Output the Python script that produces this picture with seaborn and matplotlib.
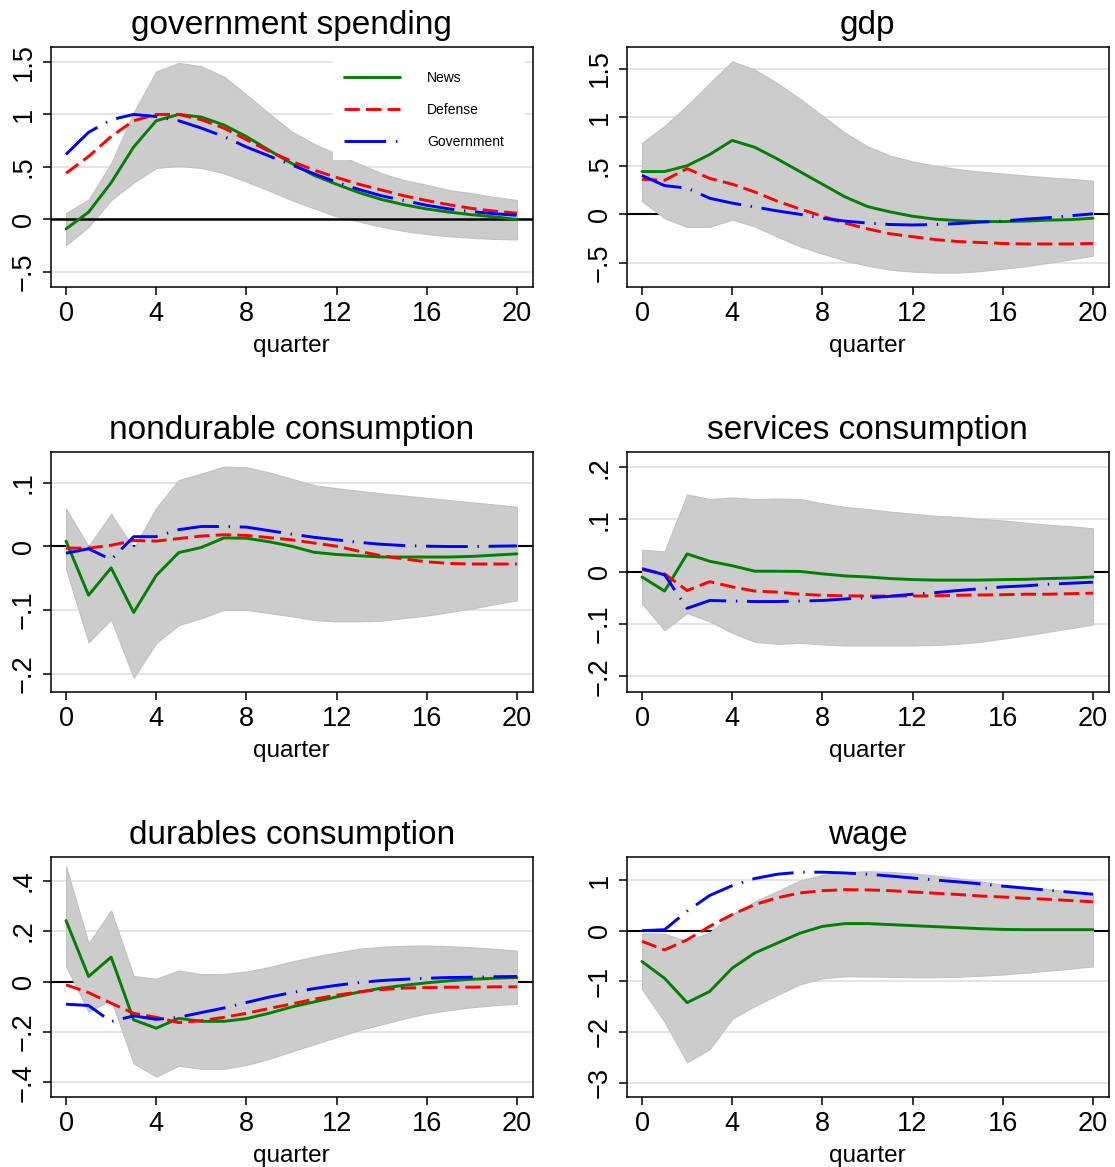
import seaborn as sns
import numpy as np
import pandas as pd
import matplotlib
matplotlib.use("Agg")
import matplotlib.pyplot as plt
from matplotlib.patches import Rectangle

quarters = list(range(21))
titles = ["government spending", "gdp",
          "nondurable consumption", "services consumption",
          "durables consumption", "wage"]
series_names = ["News", "Defense", "Government"]

# government spending
gs_news = [-0.09, 0.07, 0.35, 0.69, 0.94, 1.0, 0.975, 0.90, 0.79, 0.66, 0.535,
           0.42, 0.335, 0.255, 0.19, 0.14, 0.10, 0.07, 0.045, 0.025, 0.0]
gs_def = [0.44, 0.60, 0.79, 0.94, 1.0, 1.0, 0.95, 0.87, 0.76, 0.65, 0.555,
          0.47, 0.40, 0.335, 0.28, 0.225, 0.18, 0.14, 0.105, 0.08, 0.06]
gs_gov = [0.62, 0.83, 0.95, 1.0, 0.98, 0.94, 0.87, 0.79, 0.69, 0.605, 0.52,
          0.435, 0.355, 0.285, 0.225, 0.18, 0.135, 0.10, 0.075, 0.055, 0.04]
gs_hi = [0.06, 0.19, 0.535, 1.02, 1.41, 1.49, 1.46, 1.36, 1.19, 1.01, 0.84,
         0.72, 0.625, 0.53, 0.44, 0.375, 0.33, 0.28, 0.25, 0.215, 0.185]
gs_lo = [-0.245, -0.07, 0.185, 0.35, 0.49, 0.51, 0.49, 0.44, 0.36, 0.275, 0.185,
         0.105, 0.03, -0.02, -0.07, -0.11, -0.14, -0.16, -0.175, -0.185, -0.19]

# gdp
gdp_news = [0.44, 0.44, 0.50, 0.615, 0.76, 0.69, 0.57, 0.44, 0.31, 0.18, 0.08,
            0.025, -0.02, -0.05, -0.065, -0.075, -0.075, -0.07, -0.06, -0.055, -0.04]
gdp_def = [0.36, 0.35, 0.47, 0.37, 0.31, 0.23, 0.135, 0.055, -0.02, -0.09, -0.15,
           -0.20, -0.23, -0.26, -0.28, -0.29, -0.30, -0.305, -0.305, -0.305, -0.30]
gdp_gov = [0.40, 0.295, 0.27, 0.165, 0.115, 0.075, 0.035, 0.0, -0.04, -0.07, -0.09,
           -0.105, -0.11, -0.105, -0.095, -0.08, -0.07, -0.05, -0.035, -0.015, 0.005]
gdp_hi = [0.735, 0.91, 1.12, 1.35, 1.575, 1.49, 1.35, 1.19, 1.015, 0.84, 0.70,
          0.605, 0.545, 0.50, 0.465, 0.44, 0.42, 0.40, 0.38, 0.365, 0.345]
gdp_lo = [0.135, -0.04, -0.13, -0.13, -0.055, -0.125, -0.23, -0.33, -0.405, -0.475, -0.53,
          -0.57, -0.59, -0.60, -0.60, -0.585, -0.56, -0.535, -0.50, -0.465, -0.425]

# nondurable consumption
nd_news = [0.008, -0.077, -0.034, -0.104, -0.046, -0.010, -0.002, 0.013, 0.0125, 0.007, 0.0,
           -0.0095, -0.013, -0.015, -0.017, -0.017, -0.017, -0.017, -0.016, -0.014, -0.012]
nd_def = [-0.003, -0.003, 0.0015, 0.009, 0.008, 0.012, 0.016, 0.018, 0.017, 0.0135, 0.010,
          0.005, 0.0, -0.008, -0.015, -0.020, -0.0245, -0.027, -0.028, -0.028, -0.028]
nd_gov = [-0.011, -0.004, -0.021, 0.015, 0.015, 0.026, 0.031, 0.031, 0.030, 0.0245, 0.019,
          0.014, 0.010, 0.006, 0.003, 0.001, 0.0, -0.0005, -0.0005, 0.0, 0.0005]
nd_hi = [0.059, 0.0, 0.051, -0.003, 0.060, 0.104, 0.114, 0.125, 0.124, 0.116, 0.106,
         0.096, 0.091, 0.087, 0.083, 0.0795, 0.076, 0.0725, 0.069, 0.0655, 0.062]
nd_lo = [-0.036, -0.151, -0.115, -0.207, -0.152, -0.124, -0.113, -0.100, -0.100, -0.105, -0.110,
         -0.116, -0.118, -0.118, -0.117, -0.113, -0.109, -0.1035, -0.098, -0.091, -0.085]

# services consumption
sv_news = [-0.010, -0.037, 0.034, 0.020, 0.0115, 0.001, 0.001, 0.0006, -0.004, -0.008, -0.010,
           -0.013, -0.015, -0.016, -0.016, -0.016, -0.015, -0.0145, -0.013, -0.012, -0.010]
sv_def = [0.004, -0.004, -0.036, -0.019, -0.029, -0.037, -0.039, -0.043, -0.045, -0.046, -0.0465,
          -0.0465, -0.0465, -0.046, -0.045, -0.0445, -0.044, -0.043, -0.043, -0.042, -0.041]
sv_gov = [0.006, -0.006, -0.070, -0.055, -0.056, -0.057, -0.057, -0.056, -0.055, -0.052, -0.050,
          -0.047, -0.043, -0.040, -0.036, -0.0325, -0.029, -0.027, -0.024, -0.022, -0.020]
sv_hi = [0.042, 0.039, 0.148, 0.139, 0.142, 0.139, 0.140, 0.139, 0.131, 0.124, 0.120,
         0.115, 0.111, 0.107, 0.105, 0.101, 0.098, 0.094, 0.090, 0.087, 0.083]
sv_lo = [-0.061, -0.112, -0.079, -0.095, -0.117, -0.134, -0.138, -0.136, -0.139, -0.141, -0.141,
         -0.141, -0.141, -0.140, -0.138, -0.134, -0.128, -0.122, -0.115, -0.108, -0.101]

# durables consumption
du_news = [0.242, 0.02, 0.097, -0.152, -0.185, -0.146, -0.158, -0.158, -0.147, -0.126, -0.101,
           -0.081, -0.061, -0.042, -0.026, -0.015, -0.005, 0.003, 0.009, 0.013, 0.016]
du_def = [-0.013, -0.044, -0.086, -0.126, -0.142, -0.163, -0.155, -0.142, -0.126, -0.107, -0.089,
          -0.070, -0.054, -0.041, -0.032, -0.026, -0.024, -0.0225, -0.0225, -0.021, -0.021]
du_gov = [-0.09, -0.095, -0.159, -0.136, -0.150, -0.142, -0.123, -0.105, -0.083, -0.062, -0.044,
          -0.028, -0.015, -0.004, 0.004, 0.009, 0.013, 0.016, 0.017, 0.019, 0.020]
du_hi = [0.457, 0.152, 0.282, 0.022, 0.011, 0.044, 0.029, 0.030, 0.040, 0.057, 0.079,
         0.099, 0.115, 0.130, 0.138, 0.142, 0.143, 0.140, 0.136, 0.130, 0.123]
du_lo = [0.06, -0.119, -0.073, -0.325, -0.377, -0.334, -0.346, -0.346, -0.331, -0.307, -0.278,
         -0.249, -0.221, -0.193, -0.170, -0.147, -0.127, -0.113, -0.102, -0.094, -0.088]

# wage
wg_news = [-0.61, -0.94, -1.42, -1.20, -0.74, -0.44, -0.245, -0.05, 0.085, 0.14, 0.14,
           0.12, 0.10, 0.08, 0.06, 0.04, 0.025, 0.02, 0.02, 0.02, 0.02]
wg_def = [-0.21, -0.38, -0.18, 0.085, 0.32, 0.515, 0.65, 0.745, 0.79, 0.81, 0.805,
          0.79, 0.765, 0.74, 0.715, 0.685, 0.665, 0.64, 0.62, 0.595, 0.57]
wg_gov = [0.0, 0.02, 0.385, 0.695, 0.89, 1.03, 1.115, 1.155, 1.155, 1.14, 1.115,
          1.08, 1.04, 1.0, 0.965, 0.925, 0.88, 0.84, 0.80, 0.76, 0.72]
wg_hi = [-0.05, -0.06, -0.21, -0.03, 0.32, 0.58, 0.78, 0.99, 1.10, 1.155, 1.175,
         1.16, 1.13, 1.09, 1.035, 0.975, 0.91, 0.865, 0.82, 0.77, 0.73]
wg_lo = [-1.155, -1.80, -2.60, -2.34, -1.74, -1.49, -1.27, -1.06, -0.94, -0.90, -0.905,
         -0.91, -0.92, -0.92, -0.91, -0.89, -0.865, -0.83, -0.79, -0.75, -0.705]

yticks = [[-0.5, 0, 0.5, 1, 1.5], [-0.5, 0, 0.5, 1, 1.5],
          [-0.2, -0.1, 0, 0.1], [-0.2, -0.1, 0, 0.1, 0.2],
          [-0.4, -0.2, 0, 0.2, 0.4], [-3, -2, -1, 0, 1]]
xticks = [0, 4, 8, 12, 16, 20]

panels = [(gs_news, gs_def, gs_gov, gs_lo, gs_hi),
          (gdp_news, gdp_def, gdp_gov, gdp_lo, gdp_hi),
          (nd_news, nd_def, nd_gov, nd_lo, nd_hi),
          (sv_news, sv_def, sv_gov, sv_lo, sv_hi),
          (du_news, du_def, du_gov, du_lo, du_hi),
          (wg_news, wg_def, wg_gov, wg_lo, wg_hi)]
ylims = [(-0.64, 1.645), (-0.745, 1.725), (-0.229, 0.148),
         (-0.23, 0.229), (-0.458, 0.494), (-3.284, 1.455)]

colors = ["#008000", "#ff0000", "#0000ff"]
dashes = [None, (11, 4.5), (30, 7, 1.0, 7)]


def stata_fmt(v):
    s = "{:g}".format(v)
    if s.startswith("0."):
        s = s[1:]
    elif s.startswith("-0."):
        s = "-" + s[2:]
    return s.replace("-", "\u2212")


sns.set_style("ticks")
plt.rcParams["font.family"] = ["Liberation Sans", "DejaVu Sans"]
plt.rcParams["lines.scale_dashes"] = False
plt.rcParams["text.color"] = "black"
plt.rcParams["axes.labelcolor"] = "black"
plt.rcParams["xtick.color"] = "black"
plt.rcParams["ytick.color"] = "black"

fig = plt.figure(figsize=(11.15, 11.67), dpi=100)
lefts = [0.04547, 0.56206]
bottoms = [0.75433, 0.40703, 0.05998]
w, h = 0.43229, 0.20566

for i, (title, data) in enumerate(zip(titles, panels)):
    ax = fig.add_axes([lefts[i % 2], bottoms[i // 2], w, h])
    lo, hi = data[3], data[4]
    ax.fill_between(quarters, lo, hi, facecolor="#cccccc", edgecolor="#c2c2c2",
                    lw=0.8, zorder=1)
    ax.axhline(0, color="black", lw=1.8 if i == 0 else 1.5,
               zorder=2 if i == 0 else 0.9)
    for k in range(3):
        sns.lineplot(x=quarters, y=data[k], ax=ax, color=colors[k], lw=2.1,
                     label=series_names[k], legend=False, zorder=3)
        if dashes[k] is not None:
            ax.lines[-1].set_dashes(dashes[k])
    ax.set_xlim(-0.68, 20.7)
    ax.set_ylim(*ylims[i])
    ax.set_xticks(xticks)
    ax.set_xticklabels([str(t) for t in xticks])
    ax.set_yticks(yticks[i])
    ax.set_yticklabels([stata_fmt(t) for t in yticks[i]], rotation=90, va="center")
    ax.set_axisbelow(True)
    ax.yaxis.grid(True, color="#e2e2e2", lw=1.3)
    ax.xaxis.grid(False)
    for sp in ax.spines.values():
        sp.set_visible(True)
        sp.set_linewidth(1.1)
        sp.set_color("black")
    ax.tick_params(axis="both", direction="out", length=6, width=1.1,
                   labelsize=19.5, pad=4, colors="black")
    ax.set_title(title, fontsize=24, pad=9)
    ax.set_xlabel("quarter", fontsize=17.5, labelpad=6)
    ax.set_ylabel("")

    if i == 0:
        ax.add_patch(Rectangle((0.586, 0.528), 0.398, 0.46, transform=ax.transAxes,
                               facecolor="white", edgecolor="none", zorder=2.5))
        ax.legend(loc="upper left", bbox_to_anchor=(0.6085, 0.90), frameon=False,
                  fontsize=10, handlelength=4, handletextpad=2, labelspacing=1.3,
                  borderpad=0, borderaxespad=0)

fig.savefig("out.png", dpi=100)
